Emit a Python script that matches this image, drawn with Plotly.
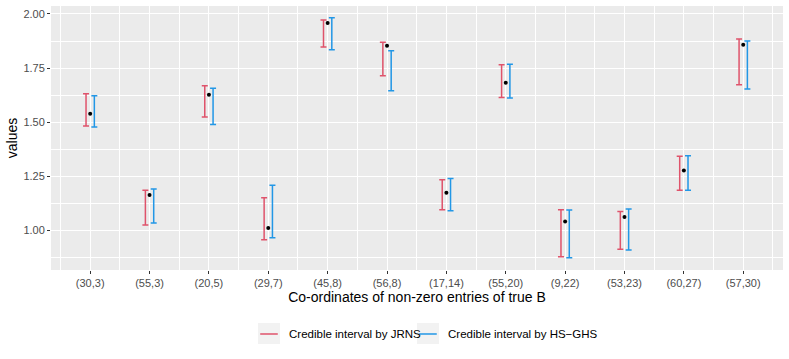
import plotly.graph_objects as go

# data
coords = ["(30,3)", "(55,3)", "(20,5)", "(29,7)", "(45,8)", "(56,8)",
          "(17,14)", "(55,20)", "(9,22)", "(53,23)", "(60,27)", "(57,30)"]
true_vals = [1.538, 1.162, 1.626, 1.009, 1.958, 1.853,
             1.173, 1.682, 1.040, 1.060, 1.275, 1.858]
jrns_lo = [1.481, 1.023, 1.523, 0.955, 1.847, 1.714,
           1.094, 1.613, 0.876, 0.911, 1.184, 1.673]
jrns_hi = [1.631, 1.184, 1.668, 1.150, 1.972, 1.869,
           1.233, 1.765, 1.094, 1.086, 1.341, 1.884]
ghs_lo = [1.477, 1.032, 1.489, 0.964, 1.835, 1.645,
          1.089, 1.611, 0.872, 0.907, 1.184, 1.653]
ghs_hi = [1.622, 1.190, 1.656, 1.207, 1.983, 1.830,
          1.238, 1.767, 1.093, 1.097, 1.344, 1.875]
legend_labels = ["Credible interval by JRNS", "Credible interval by HS\u2212GHS"]

RED = "#DF536B"
BLUE = "#2297E6"
DODGE = 0.07

pos = list(range(1, len(coords) + 1))


def interval_trace(lo, hi, shift, color):
    mid = [(a + b) / 2 for a, b in zip(lo, hi)]
    return go.Scatter(
        x=[p + shift for p in pos],
        y=mid,
        mode="markers",
        marker=dict(size=0.1, color=color, opacity=0),
        error_y=dict(type="data", symmetric=False,
                     array=[h - m for h, m in zip(hi, mid)],
                     arrayminus=[m - l for m, l in zip(mid, lo)],
                     color=color, thickness=1.5, width=3),
        showlegend=False,
        hoverinfo="skip",
    )


fig = go.Figure()
fig.add_trace(interval_trace(jrns_lo, jrns_hi, -DODGE, RED))
fig.add_trace(interval_trace(ghs_lo, ghs_hi, DODGE, BLUE))
fig.add_trace(go.Scatter(x=pos, y=true_vals, mode="markers",
                         marker=dict(size=4, color="black"), showlegend=False))

# ggplot-style legend below the panel (paper coords)
key_y = -0.2424
for x0, color, label in [(0.2828, RED, legend_labels[0]), (0.5, BLUE, legend_labels[1])]:
    fig.add_shape(type="rect", xref="paper", yref="paper",
                  x0=x0, x1=x0 + 0.030, y0=-0.2008, y1=-0.2803,
                  fillcolor="#F2F2F2", line=dict(width=0))
    fig.add_shape(type="line", xref="paper", yref="paper",
                  x0=x0 + 0.003, x1=x0 + 0.027, y0=key_y, y1=key_y,
                  line=dict(color=color, width=1.5))
    fig.add_annotation(x=x0 + 0.0396, y=key_y, xref="paper", yref="paper",
                       text=label, showarrow=False, xanchor="left", yanchor="middle",
                       font=dict(size=11.5, color="black"))

fig.update_layout(
    width=789, height=359,
    margin=dict(l=51, r=6, t=6, b=89),
    paper_bgcolor="white",
    plot_bgcolor="#EBEBEB",
    font=dict(family="Liberation Sans, Arial, sans-serif", color="#4D4D4D", size=11),
    showlegend=False,
)
fig.update_xaxes(
    range=[0.34, 12.67],
    tickvals=pos, ticktext=coords,
    showgrid=True, gridcolor="white", gridwidth=1.1,
    minor=dict(tickvals=[p + 0.5 for p in [0] + pos], showgrid=True,
               gridcolor="white", gridwidth=0.5),
    zeroline=False, automargin=False,
    ticks="outside", ticklen=3, tickcolor="#333333",
    tickfont=dict(size=11, color="#4D4D4D"),
    title=dict(text="Co-ordinates of non-zero entries of true B",
               font=dict(size=14, color="black"), standoff=0),
)
fig.update_yaxes(
    range=[0.815, 2.037],
    tickvals=[1.0, 1.25, 1.5, 1.75, 2.0],
    ticktext=["1.00", "1.25", "1.50", "1.75", "2.00"],
    showgrid=True, gridcolor="white", gridwidth=1.1,
    minor=dict(tickvals=[0.875, 1.125, 1.375, 1.625, 1.875], showgrid=True,
               gridcolor="white", gridwidth=0.5),
    zeroline=False, automargin=False,
    ticks="outside", ticklen=3, tickcolor="#333333",
    tickfont=dict(size=11, color="#4D4D4D"),
    title=dict(text="values", font=dict(size=14, color="black"), standoff=2),
)

fig.write_html("out.html", config={"displayModeBar": False},
               post_script="document.body.style.margin='0';")
